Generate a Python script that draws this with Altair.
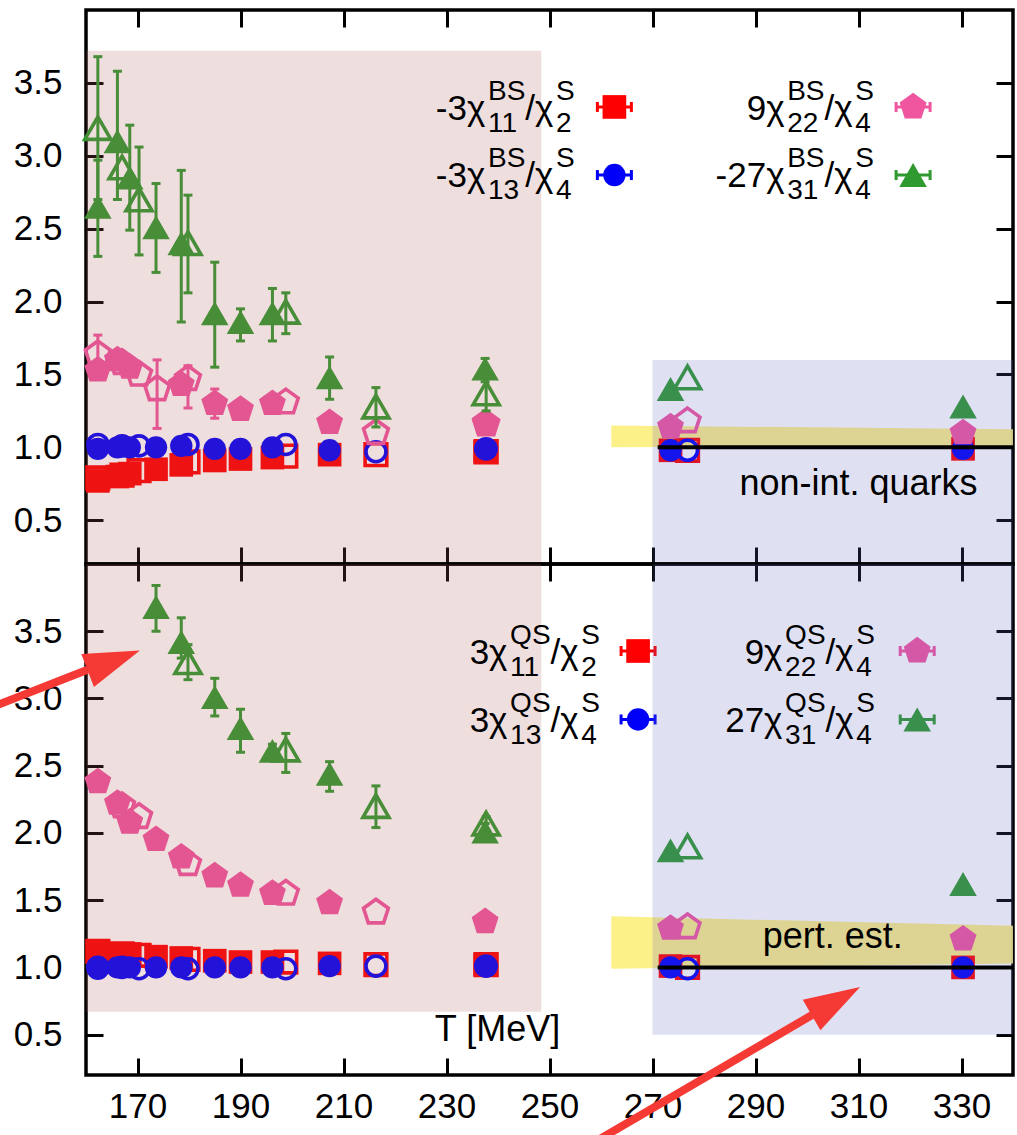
import altair as alt
import pandas as pd

FONT = "Liberation Sans"

# ---------------- axes ----------------
X_TICKS = [170, 190, 210, 230, 250, 270, 290, 310, 330]
Y_TICKS = [0.5, 1.0, 1.5, 2.0, 2.5, 3.0, 3.5]
X_DOMAIN = [160, 340]
Y_DOMAIN = [0.2, 4.0]

# ---------------- temperatures (filled / open symbol sets) ----------------
T_FILLED = [162.3, 166.1, 168.5, 173.6, 178.5, 185.0, 190.0, 196.2, 207.3, 237.5, 273.5, 330.3]
T_OPEN = [162.3, 167.0, 170.3, 179.8, 198.8, 216.3, 237.7, 276.8]

# ---------------- upper panel: BS ratios ----------------
BS_RED_FILLED = [0.77, 0.80, 0.82, 0.85, 0.88, 0.91, 0.92, 0.93, 0.95, 0.97, 0.98, 0.99]
BS_RED_OPEN = [0.79, 0.81, 0.84, 0.90, 0.94, 0.95, 0.97, 0.98]
BS_BLUE_FILLED = [0.99, 1.00, 1.00, 1.00, 1.01, 0.99, 0.99, 1.00, 0.98, 0.99, 0.98, 0.99]
BS_BLUE_OPEN = [1.02, 1.01, 1.01, 1.02, 1.02, 0.97, 0.99, 0.98]

BS_PINK_T_FILLED = [162.3, 166.1, 168.5, 178.5, 185.0, 190.0, 196.2, 207.3, 237.5, 273.5, 330.3]
BS_PINK_FILLED = [1.53, 1.60, 1.55, 1.43, 1.30, 1.26, 1.30, 1.17, 1.17, 1.14, 1.10]
BS_PINK_FILLED_LO = [1.53, 1.60, 1.55, 1.43, 1.20, 1.26, 1.30, 1.17, 1.17, 1.14, 1.10]
BS_PINK_FILLED_HI = [1.53, 1.60, 1.55, 1.43, 1.40, 1.26, 1.30, 1.17, 1.17, 1.14, 1.10]
BS_PINK_T_OPEN = [162.3, 167.0, 170.3, 173.8, 179.8, 198.8, 216.3, 237.7, 276.8]
BS_PINK_OPEN = [1.64, 1.58, 1.50, 1.40, 1.47, 1.31, 1.10, 1.16, 1.18]
BS_PINK_OPEN_LO = [1.50, 1.58, 1.50, 1.13, 1.27, 1.31, 1.10, 1.16, 1.18]
BS_PINK_OPEN_HI = [1.77, 1.58, 1.50, 1.60, 1.56, 1.31, 1.10, 1.16, 1.18]

BS_GREEN_FILLED = [2.65, 3.10, 2.85, 2.51, 2.40, 1.92, 1.86, 1.92, 1.48, 1.54, 1.40, 1.28]
BS_GREEN_FILLED_LO = [2.31, 2.70, 2.49, 2.20, 1.86, 1.55, 1.73, 1.73, 1.33, 1.45, 1.40, 1.28]
BS_GREEN_FILLED_HI = [2.97, 3.58, 3.21, 2.81, 2.90, 2.27, 1.95, 2.09, 1.62, 1.61, 1.40, 1.28]
BS_GREEN_OPEN = [3.19, 2.92, 2.70, 2.40, 1.93, 1.28, 1.37, 1.48]
BS_GREEN_OPEN_LO = [2.70, 2.92, 2.32, 2.06, 1.78, 1.14, 1.25, 1.48]
BS_GREEN_OPEN_HI = [3.68, 2.92, 3.06, 2.73, 2.06, 1.41, 1.48, 1.48]

# ---------------- lower panel: QS ratios ----------------
QS_RED_FILLED = [1.12, 1.10, 1.10, 1.08, 1.07, 1.05, 1.04, 1.04, 1.03, 1.02, 1.01, 1.00]
QS_RED_OPEN = [1.12, 1.10, 1.09, 1.06, 1.04, 1.02, 1.02, 1.00]
QS_BLUE_FILLED = [0.99, 1.00, 1.00, 1.00, 1.00, 1.00, 1.00, 1.00, 1.01, 1.01, 1.00, 1.00]
QS_BLUE_OPEN = [1.00, 1.00, 0.99, 0.99, 0.99, 1.01, 1.01, 0.99]
QS_PINK_FILLED = [2.38, 2.22, 2.08, 1.95, 1.82, 1.68, 1.61, 1.55, 1.48, 1.34, 1.29, 1.21]
QS_PINK_T_OPEN = [167.0, 170.3, 179.8, 198.8, 216.3, 276.8]
QS_PINK_OPEN = [2.20, 2.12, 1.77, 1.55, 1.41, 1.30]
QS_GREEN_T_FILLED = [173.6, 178.5, 185.0, 190.0, 196.2, 207.3, 237.5, 273.5, 330.3]
QS_GREEN_FILLED = [3.68, 3.42, 3.01, 2.78, 2.61, 2.44, 2.01, 1.87, 1.62]
QS_GREEN_FILLED_LO = [3.50, 3.30, 2.87, 2.60, 2.56, 2.31, 1.95, 1.87, 1.62]
QS_GREEN_FILLED_HI = [3.84, 3.60, 3.15, 2.92, 2.66, 2.53, 2.07, 1.87, 1.62]
QS_GREEN_T_OPEN = [179.8, 198.8, 216.3, 237.7, 276.8]
QS_GREEN_OPEN = [3.27, 2.62, 2.20, 2.07, 1.90]
QS_GREEN_OPEN_LO = [3.14, 2.45, 2.04, 2.00, 1.90]
QS_GREEN_OPEN_HI = [3.40, 2.74, 2.35, 2.12, 1.90]

# ---------------- bands, limits, regions ----------------
BAND_T = [262, 340]
BS_BAND_LO = [1.00, 1.01]
BS_BAND_HI = [1.15, 1.125]
QS_BAND_LO = [0.99, 1.03]
QS_BAND_HI = [1.38, 1.31]
LIMIT_T = [271, 340]
LIMIT_V = [1.0, 1.0]
RED_REGION_T = [160, 248.4]
BLUE_REGION_T = [270, 340]
BS_RED_REGION_V = [0.2, 3.72]
BS_BLUE_REGION_V = [0.2, 1.6]
QS_RED_REGION_V = [0.67, 4.0]
QS_BLUE_REGION_V = [0.5, 4.0]

# ---------------- legend texts ----------------
BS_PREFIX = ["-3", "-3", "9", "-27"]
QS_PREFIX = ["3", "3", "9", "27"]
LEG_SUB1 = ["11", "13", "22", "31"]
LEG_SUB2 = ["2", "4", "4", "4"]
LEG_KEYS = ["red", "blue", "pink", "green"]

# ---------------- layout (positions, not data) ----------------
W = 927
H_TOP = 554
H_BOT = 511
XPU = W / 180.0
YPU_TOP = H_TOP / 3.8
YPU_BOT = H_BOT / 3.8

BS_LEG_RIGHT = [254.9, 254.9, 313.0, 313.0]
BS_LEG_BASE = [3.248, 2.783, 3.248, 2.783]
BS_SAMPLE_T = [262.6, 262.6, 320.6, 320.6]
BS_SAMPLE_V = [3.335, 2.868, 3.335, 2.868]
QS_LEG_RIGHT = [259.8, 259.8, 313.2, 313.2]
QS_LEG_BASE = [3.253, 2.751, 3.253, 2.751]
QS_SAMPLE_T = [267.2, 267.2, 321.4, 321.4]
QS_SAMPLE_V = [3.353, 2.844, 3.353, 2.844]

ARROW_T = [138.0, 160.3, 252.0, 300.97]
ARROW_V = [2.88, 3.214, -0.45, 0.646]
ARROW_ID = ["a", "a", "b", "b"]
HEAD_T = [165.39, 305.6]
HEAD_V = [3.283, 0.750]
HEAD_ANGLE = [69, 60]

# ---------------- styles ----------------
COLORS = {"red": "#ff0000", "blue": "#0000f8", "pink": "#f0559f", "green": "#2f9a2f"}
PENT = "M0,-1L0.951,-0.309L0.588,0.809L-0.588,0.809L-0.951,-0.309Z"
SHAPES = {"red": "square", "blue": "circle", "pink": PENT, "green": "triangle-up"}
SIZE_F = {"red": 560, "blue": 500, "pink": 800, "green": 760}
SIZE_O = {"red": 470, "blue": 400, "pink": 680, "green": 680}
ARROW_PATH = "M0,-1L0.63,1L-0.63,1Z"
ARROW_COLOR = "#f53a35"
BAND_COLOR = "#fcf07e"
MAIN_FS = 35
SMALL_FS = 28
TICK = 17

XS = alt.Scale(domain=X_DOMAIN, nice=False, zero=False)
YS = alt.Scale(domain=Y_DOMAIN, nice=False, zero=False)


def ax(**kw):
    base = dict(tickSize=TICK, offset=-TICK, domain=False, grid=False, title=None,
                tickColor="black", tickWidth=3, labelFont=FONT, labelFontSize=35,
                labelColor="black", labelFlush=False, labelOverlap=False)
    base.update(kw)
    return alt.Axis(**base)


AX_BOTTOM_LAB = ax(orient="bottom", values=X_TICKS, labelPadding=14, format="d")
AX_BOTTOM_NOLAB = ax(orient="bottom", values=X_TICKS, labels=False)
AX_TOP = ax(orient="top", values=X_TICKS, labels=False)
AX_LEFT = ax(orient="left", values=Y_TICKS, labelPadding=24, format=".1f")
AX_RIGHT = ax(orient="right", values=Y_TICKS, labels=False)


def X(f="T", axis=None):
    return alt.X(f"{f}:Q", scale=XS, axis=axis)


def Y(f="v", axis=None):
    return alt.Y(f"{f}:Q", scale=YS, axis=axis)


def series_layers(T, v, lo, hi, key, is_open):
    lo = lo if lo is not None else v
    hi = hi if hi is not None else v
    df = pd.DataFrame({"T": T, "v": v, "lo": lo, "hi": hi})
    out = []
    err = df[df["hi"] > df["lo"]]
    c = COLORS[key]
    if len(err):
        out.append(alt.Chart(err).mark_rule(color=c, strokeWidth=3).encode(
            x=X(), y=Y("lo"), y2="hi:Q"))
        caps = pd.concat([err[["T", "lo"]].rename(columns={"lo": "e"}),
                          err[["T", "hi"]].rename(columns={"hi": "e"})])
        out.append(alt.Chart(caps).mark_tick(color=c, orient="horizontal", size=9,
                                             thickness=3, opacity=1).encode(x=X(), y=Y("e")))
    if is_open:
        m = alt.Chart(df).mark_point(filled=False, shape=SHAPES[key], size=SIZE_O[key],
                                     color=c, strokeWidth=3.6, opacity=1)
    else:
        m = alt.Chart(df).mark_point(filled=True, shape=SHAPES[key], size=SIZE_F[key],
                                     color=c, opacity=1)
    out.append(m.encode(x=X(), y=Y()))
    return out


CW = {"-": 0.333, "/": 0.278, "B": 0.667, "S": 0.667, "Q": 0.778, "χ": 0.6}


def tw(s, fs):
    return sum(CW.get(ch, 0.556) for ch in s) * fs


def legend_text(rights, bases, prefixes, sup, ypu):
    rows = []
    for R, B, pre, s1, s2 in zip(rights, bases, prefixes, LEG_SUB1, LEG_SUB2):
        m1 = pre + "χ"
        w1 = tw(m1, MAIN_FS)
        g1 = max(tw(sup, SMALL_FS), tw(s1, SMALL_FS))
        m2 = "/χ"
        w2 = tw(m2, MAIN_FS)
        g2 = max(tw("S", SMALL_FS), tw(s2, SMALL_FS))
        x0 = -(w1 + g1 + w2 + g2)
        up = 20 / ypu
        dn = 12 / ypu

        def add(px, dv, text, fs):
            rows.append({"T": R + px / XPU, "v": B + dv, "text": text, "size": fs})
        add(x0, 0, m1, MAIN_FS)
        add(x0 + w1, up, sup, SMALL_FS)
        add(x0 + w1, -dn, s1, SMALL_FS)
        add(x0 + w1 + g1, 0, m2, MAIN_FS)
        add(x0 + w1 + g1 + w2, up, "S", SMALL_FS)
        add(x0 + w1 + g1 + w2, -dn, s2, SMALL_FS)
    df = pd.DataFrame(rows)
    return alt.Chart(df).mark_text(align="left", baseline="alphabetic", font=FONT,
                                   color="black").encode(
        x=X(), y=Y(), text="text:N", size=alt.Size("size:Q", scale=None))


def legend_samples(ts, vs):
    out = []
    half = 17 / XPU
    for t, v, key in zip(ts, vs, LEG_KEYS):
        c = COLORS[key]
        line = pd.DataFrame({"T": [t - half], "T2": [t + half], "v": [v]})
        out.append(alt.Chart(line).mark_rule(color=c, strokeWidth=3).encode(
            x=X(), x2="T2:Q", y=Y()))
        caps = pd.DataFrame({"T": [t - half, t + half], "v": [v, v]})
        out.append(alt.Chart(caps).mark_tick(color=c, orient="vertical", size=10,
                                             thickness=3, opacity=1).encode(x=X(), y=Y()))
        pt = pd.DataFrame({"T": [t], "v": [v]})
        out.append(alt.Chart(pt).mark_point(filled=True, shape=SHAPES[key], size=SIZE_F[key],
                                            color=c, opacity=1).encode(x=X(), y=Y()))
    return out


def panel(h, ypu, band_lo, band_hi, red_v, blue_v, series, leg_right, leg_base, prefixes,
          sup, samp_t, samp_v, notes, bottom_axis, extra):
    layers = []
    band = pd.DataFrame({"T": BAND_T, "lo": band_lo, "hi": band_hi})
    layers.append(alt.Chart(band).mark_area(color=BAND_COLOR, opacity=0.92).encode(
        x=X("T", bottom_axis), y=Y("lo", AX_LEFT), y2="hi:Q"))
    for s in series:
        layers += series_layers(*s)
    layers += legend_samples(samp_t, samp_v)
    regions = pd.DataFrame({"T1": [RED_REGION_T[0], BLUE_REGION_T[0]],
                            "T2": [RED_REGION_T[1], BLUE_REGION_T[1]],
                            "v1": [red_v[0], blue_v[0]], "v2": [red_v[1], blue_v[1]],
                            "c": ["#b05a5a", "#6464c4"]})
    layers.append(alt.Chart(regions).mark_rect(opacity=0.2).encode(
        x=X("T1", AX_TOP), x2="T2:Q", y=Y("v1", AX_RIGHT), y2="v2:Q",
        fill=alt.Fill("c:N", scale=None)))
    lim = pd.DataFrame({"T": LIMIT_T, "v": LIMIT_V})
    layers.append(alt.Chart(lim).mark_line(color="black", strokeWidth=4).encode(x=X(), y=Y()))
    layers.append(legend_text(leg_right, leg_base, prefixes, sup, ypu))
    layers.append(alt.Chart(notes).mark_text(align="center", baseline="alphabetic", font=FONT,
                                             fontSize=36, color="black").encode(
        x=X(), y=Y(), text="text:N"))
    layers += extra
    return alt.layer(*layers).properties(width=W, height=h).resolve_axis(
        x="independent", y="independent")


top_series = [
    (T_FILLED, BS_RED_FILLED, None, None, "red", False),
    (T_OPEN, BS_RED_OPEN, None, None, "red", True),
    (T_FILLED, BS_BLUE_FILLED, None, None, "blue", False),
    (T_OPEN, BS_BLUE_OPEN, None, None, "blue", True),
    (BS_PINK_T_FILLED, BS_PINK_FILLED, BS_PINK_FILLED_LO, BS_PINK_FILLED_HI, "pink", False),
    (BS_PINK_T_OPEN, BS_PINK_OPEN, BS_PINK_OPEN_LO, BS_PINK_OPEN_HI, "pink", True),
    (T_FILLED, BS_GREEN_FILLED, BS_GREEN_FILLED_LO, BS_GREEN_FILLED_HI, "green", False),
    (T_OPEN, BS_GREEN_OPEN, BS_GREEN_OPEN_LO, BS_GREEN_OPEN_HI, "green", True),
]
bot_series = [
    (T_FILLED, QS_RED_FILLED, None, None, "red", False),
    (T_OPEN, QS_RED_OPEN, None, None, "red", True),
    (T_FILLED, QS_BLUE_FILLED, None, None, "blue", False),
    (T_OPEN, QS_BLUE_OPEN, None, None, "blue", True),
    (T_FILLED, QS_PINK_FILLED, None, None, "pink", False),
    (QS_PINK_T_OPEN, QS_PINK_OPEN, None, None, "pink", True),
    (QS_GREEN_T_FILLED, QS_GREEN_FILLED, QS_GREEN_FILLED_LO, QS_GREEN_FILLED_HI, "green", False),
    (QS_GREEN_T_OPEN, QS_GREEN_OPEN, QS_GREEN_OPEN_LO, QS_GREEN_OPEN_HI, "green", True),
]

top_notes = pd.DataFrame({"T": [310.0], "v": [0.674], "text": ["non-int. quarks"]})
bot_notes = pd.DataFrame({"T": [305.0, 239.9], "v": [1.142, 0.453],
                          "text": ["pert. est.", "T [MeV]"]})

arrows = pd.DataFrame({"T": ARROW_T, "v": ARROW_V, "id": ARROW_ID})
heads = pd.DataFrame({"T": HEAD_T, "v": HEAD_V, "angle": HEAD_ANGLE})
arrow_layers = [
    alt.Chart(arrows).mark_line(color=ARROW_COLOR, strokeWidth=8, clip=False).encode(
        x=X(), y=Y(), detail="id:N"),
    alt.Chart(heads).mark_point(shape=ARROW_PATH, size=3136, filled=True, color=ARROW_COLOR,
                                opacity=1, clip=False).encode(
        x=X(), y=Y(), angle=alt.Angle("angle:Q", scale=None)),
]

top = panel(H_TOP, YPU_TOP, BS_BAND_LO, BS_BAND_HI, BS_RED_REGION_V, BS_BLUE_REGION_V,
            top_series, BS_LEG_RIGHT, BS_LEG_BASE, BS_PREFIX, "BS", BS_SAMPLE_T, BS_SAMPLE_V,
            top_notes, AX_BOTTOM_NOLAB, [])
bottom = panel(H_BOT, YPU_BOT, QS_BAND_LO, QS_BAND_HI, QS_RED_REGION_V, QS_BLUE_REGION_V,
               bot_series, QS_LEG_RIGHT, QS_LEG_BASE, QS_PREFIX, "QS", QS_SAMPLE_T, QS_SAMPLE_V,
               bot_notes, AX_BOTTOM_LAB, arrow_layers)

chart = alt.vconcat(top, bottom, spacing=0, bounds="flush").properties(
    autosize=alt.AutoSizeParams(type="none"),
    padding={"left": 86, "top": 10, "right": 4, "bottom": 1125},
    background="white",
).configure_view(stroke="black", strokeWidth=3.5)

chart.save("out.html", embed_options={"renderer": "svg", "actions": False})
